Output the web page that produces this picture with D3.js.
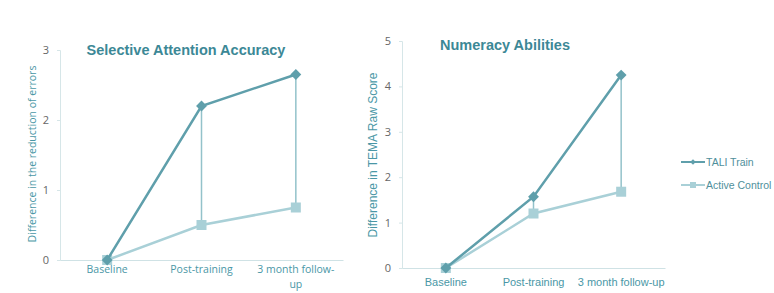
<!DOCTYPE html>
<html>
<head>
<meta charset="utf-8">
<script src="https://cdn.jsdelivr.net/npm/d3@7"></script>
<style>
  body { margin: 0; background: #fff; }
  svg text { font-family: "Open Sans", "Liberation Sans", sans-serif; }
</style>
</head>
<body>
<svg id="chart" width="774" height="293"></svg>
<script>
// data
var categories = ["Baseline", "Post-training", "3 month follow-up"];
var attnTali = [0, 2.2, 2.65];
var attnControl = [0, 0.5, 0.75];
var numTali = [0, 1.57, 4.25];
var numControl = [0, 1.2, 1.68];
var attnTicks = [0, 1, 2, 3];
var numTicks = [0, 1, 2, 3, 4, 5];
var seriesNames = ["TALI Train", "Active Control"];

var darkCol = "#5f9fab", lightCol = "#a9d0d7", dropCol = "#93c2ca";
var titleCol = "#3c8896", labelCol = "#4a97a6", tickCol = "#666";

var svg = d3.select("#chart");

function drawPanel(opt) {
  var g = svg.append("g");
  var x = d3.scaleBand().domain(categories).range([opt.x0, opt.x1]);
  var y = d3.scaleLinear().domain([0, opt.max]).range([opt.yb, opt.yt]);
  var cx = function(i) { return x(categories[i]) + x.bandwidth() / 2; };

  // axes
  var yAxis = g.append("g")
    .attr("transform", "translate(" + opt.x0 + ",0)")
    .call(d3.axisLeft(y).tickValues(opt.ticks).tickSize(3).tickPadding(8).tickFormat(d3.format("d")));
  yAxis.select(".domain").attr("stroke", "#d6e6e8");
  yAxis.selectAll(".tick line").attr("stroke", "#d6e6e8");
  yAxis.selectAll("text").attr("fill", tickCol).style("font-size", "11px");

  var xAxis = g.append("g")
    .attr("transform", "translate(0," + opt.yb + ")")
    .call(d3.axisBottom(x).tickSize(0).tickPadding(opt.xPad));
  xAxis.select(".domain").attr("stroke", "#cfe2e5");
  xAxis.selectAll("text").attr("fill", labelCol).style("font-size", opt.xFont)
    .style("font-family", opt.xFamily);
  if (opt.wrap) {
    xAxis.selectAll(".tick text").filter(function(d) { return d === "3 month follow-up"; })
      .each(function() {
        var t = d3.select(this);
        t.text(null);
        t.append("tspan").attr("x", 0).attr("dy", "0.71em").text("3 month follow-");
        t.append("tspan").attr("x", 0).attr("dy", "1.4em").text("up");
      }).attr("dy", null);
  }

  // drop lines between series
  [1, 2].forEach(function(i) {
    g.append("line")
      .attr("x1", cx(i)).attr("x2", cx(i))
      .attr("y1", y(opt.tali[i])).attr("y2", y(opt.control[i]))
      .attr("stroke", dropCol).attr("stroke-width", 1.5);
  });

  var line = d3.line().x(function(d, i) { return cx(i); }).y(function(d) { return y(d); });

  g.append("path").datum(opt.control).attr("d", line)
    .attr("fill", "none").attr("stroke", lightCol).attr("stroke-width", 2.5);
  g.selectAll(".sq").data(opt.control).enter().append("rect")
    .attr("x", function(d, i) { return cx(i) - 5; })
    .attr("y", function(d) { return y(d) - 5; })
    .attr("width", 10).attr("height", 10)
    .attr("fill", lightCol);

  g.append("path").datum(opt.tali).attr("d", line)
    .attr("fill", "none").attr("stroke", darkCol).attr("stroke-width", 2.5);
  g.selectAll(".dm").data(opt.tali).enter().append("path")
    .attr("d", d3.symbol().type(d3.symbolDiamond2).size(75))
    .attr("transform", function(d, i) { return "translate(" + cx(i) + "," + y(d) + ")"; })
    .attr("fill", darkCol);

  g.append("text")
    .attr("x", opt.titleX).attr("y", opt.titleY)
    .attr("text-anchor", "middle")
    .attr("fill", titleCol)
    .style("font-size", "14.5px").style("font-weight", "bold")
    .style("font-family", "'Liberation Sans', Arial, sans-serif")
    .text(opt.title);

  g.append("text")
    .attr("transform", "translate(" + opt.ylX + "," + opt.ylY + ") rotate(-90)")
    .attr("text-anchor", "middle")
    .attr("fill", labelCol)
    .style("font-size", opt.ylFont)
    .style("font-family", opt.xFamily)
    .text(opt.ylabel);
}

drawPanel({
  x0: 60, x1: 343, yb: 260, yt: 50, max: 3, ticks: attnTicks,
  tali: attnTali, control: attnControl, wrap: true, xPad: 6,
  xFont: "10.5px", xFamily: "'Open Sans', sans-serif",
  title: "Selective Attention Accuracy", titleX: 186, titleY: 55,
  ylabel: "Difference in the reduction of errors", ylX: 36, ylY: 154, ylFont: "10.5px"
});

drawPanel({
  x0: 402, x1: 665, yb: 268, yt: 41, max: 5, ticks: numTicks,
  tali: numTali, control: numControl, wrap: false, xPad: 10,
  xFont: "11px", xFamily: "'Liberation Sans', Arial, sans-serif",
  title: "Numeracy Abilities", titleX: 505, titleY: 50,
  ylabel: "Difference in TEMA Raw Score", ylX: 377, ylY: 155, ylFont: "12px"
});

// legend
var leg = svg.append("g");
var legCols = [darkCol, lightCol];
seriesNames.forEach(function(name, i) {
  var ly = 162 + i * 23;
  leg.append("line").attr("x1", 681).attr("x2", 705).attr("y1", ly).attr("y2", ly)
    .attr("stroke", legCols[i]).attr("stroke-width", 2);
  if (i === 0) {
    leg.append("path").attr("d", d3.symbol().type(d3.symbolDiamond2).size(20))
      .attr("transform", "translate(693," + ly + ")").attr("fill", legCols[i]);
  } else {
    leg.append("rect").attr("x", 690).attr("y", ly - 3).attr("width", 6).attr("height", 6)
      .attr("fill", legCols[i]);
  }
  leg.append("text").attr("x", 706).attr("y", ly + 4)
    .attr("fill", "#4f8f9b")
    .style("font-size", "10.5px")
    .style("font-family", "'Liberation Sans', Arial, sans-serif")
    .text(name);
});
</script>
</body>
</html>
